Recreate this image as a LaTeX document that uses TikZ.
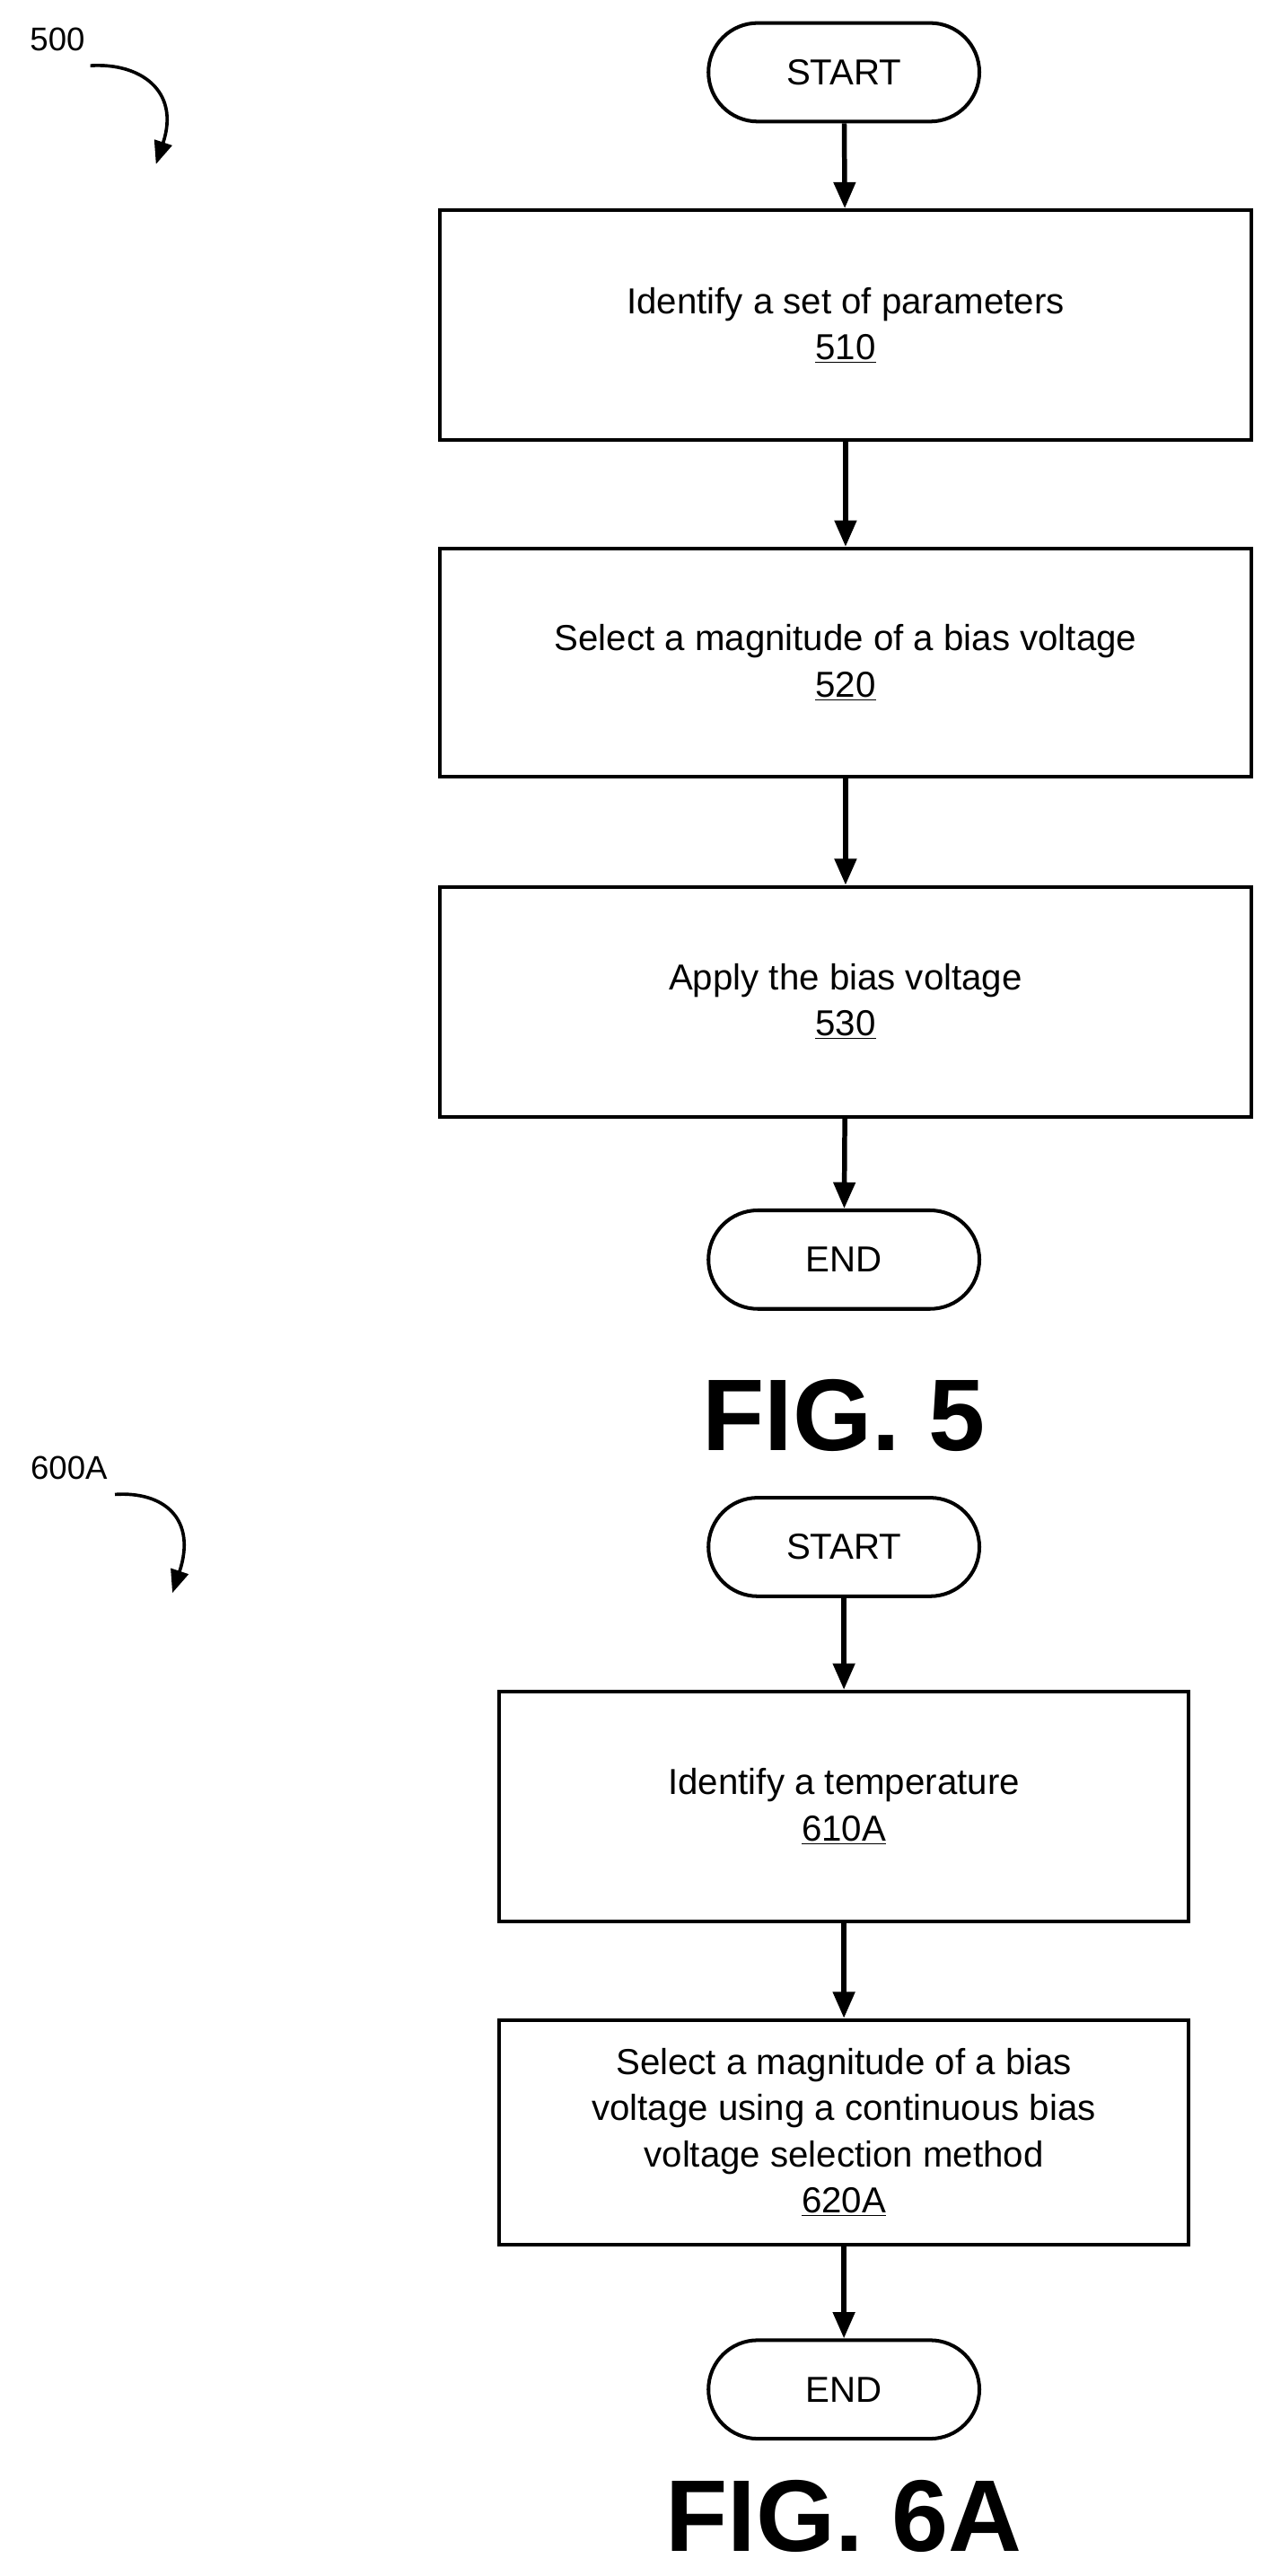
\documentclass[tikz,border=0pt]{standalone}
\usepackage{fontspec}
\setmainfont{Liberation Sans}
\usetikzlibrary{arrows.meta}
\begin{document}
\begin{tikzpicture}[x=1pt,y=-1pt,
  box/.style={draw,line width=2.2pt,minimum width=494pt,align=center,font=\fontsize{22}{28}\selectfont,inner sep=0pt},
  term/.style={draw,line width=2.2pt,rounded corners=30pt,minimum width=165pt,minimum height=60pt,font=\fontsize{22}{26}\selectfont},
  arr/.style={line width=3pt,-{Triangle[length=16pt,width=13pt]}},
  fig/.style={font=\fontsize{62}{62}\selectfont\bfseries},
  lab/.style={font=\fontsize{20}{24}\selectfont}]
\useasboundingbox (0,0) rectangle (774.7,1568.6);
\node[term] (s1) at (514,44) {START};
\node[box,minimum height=140pt] (b510) at (515,198) {Identify a set of parameters\\\underline{510}};
\node[box,minimum height=139pt] (b520) at (515,403.5) {Select a magnitude of a bias voltage\\\underline{520}};
\node[box,minimum height=140pt] (b530) at (515,610) {Apply the bias voltage\\\underline{530}};
\node[term] (e1) at (514,767) {END};
\node[fig] (f5) at (514,862) {FIG. 5};
\draw[arr] (s1) -- (b510);
\draw[arr] (b510) -- (b520);
\draw[arr] (b520) -- (b530);
\draw[arr] (b530) -- (e1);
\node[lab] (l500) at (35,24) {500};
\coordinate (a500) at (95,100);
\draw[line width=2pt,-{Triangle[length=14pt,width=11pt]}] (55,40) .. controls (85,38) and (110,55) .. (a500);
\node[term] (s2) at (514,942) {START};
\node[box,minimum width=420pt,minimum height=140pt] (b610) at (514,1100) {Identify a temperature\\\underline{610A}};
\node[box,minimum width=420pt,minimum height=137pt] (b620) at (514,1298.5) {Select a magnitude of a bias\\voltage using a continuous bias\\voltage selection method\\\underline{620A}};
\node[term] (e2) at (514,1455) {END};
\node[fig] (f6) at (514,1532) {FIG. 6A};
\draw[arr] (s2) -- (b610);
\draw[arr] (b610) -- (b620);
\draw[arr] (b620) -- (e2);
\node[lab] (l600) at (42,894) {600A};
\coordinate (a600) at (105,970);
\draw[line width=2pt,-{Triangle[length=14pt,width=11pt]}] (70,910) .. controls (100,908) and (120,925) .. (a600);
\end{tikzpicture}
\end{document}
